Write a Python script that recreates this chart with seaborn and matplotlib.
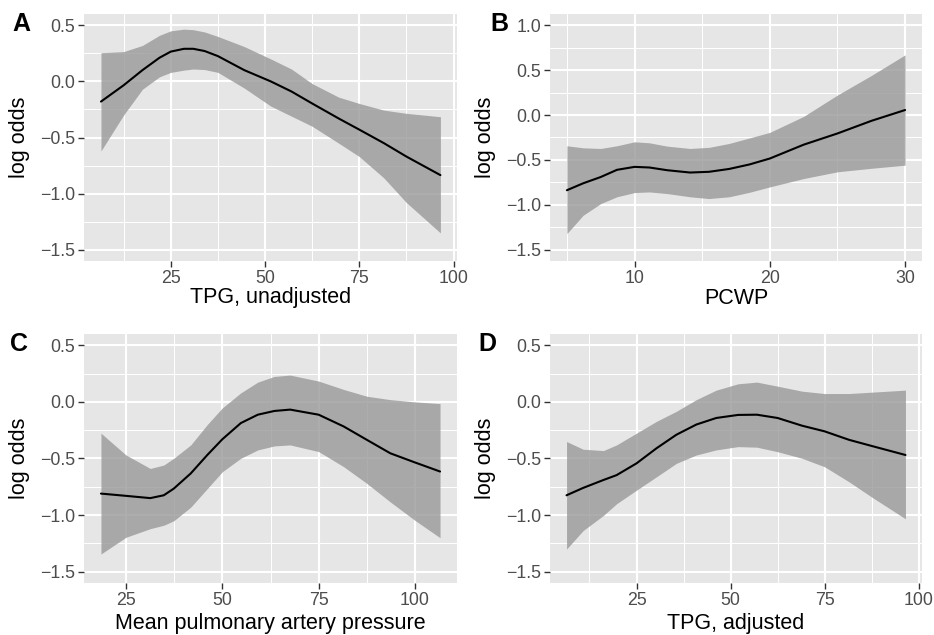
import matplotlib
matplotlib.use("Agg")
import matplotlib.pyplot as plt
import seaborn as sns
import pandas as pd

# ---------------- data ----------------
# Panel A: TPG, unadjusted
a_x = [6.5, 12.5, 17.5, 22, 25, 28.5, 31, 34, 37.5, 44.5, 51.5, 57, 62.5, 69.5, 75, 81.5, 87.5, 96.5]
a_fit = [-0.18, -0.035, 0.10, 0.21, 0.265, 0.29, 0.29, 0.27, 0.225, 0.10, 0.0, -0.09, -0.197, -0.33, -0.43, -0.55, -0.67, -0.835]
a_hi = [0.255, 0.265, 0.32, 0.41, 0.45, 0.465, 0.46, 0.44, 0.40, 0.31, 0.20, 0.11, -0.02, -0.14, -0.197, -0.256, -0.285, -0.315]
a_lo = [-0.62, -0.30, -0.07, 0.04, 0.08, 0.10, 0.11, 0.105, 0.08, -0.06, -0.22, -0.31, -0.40, -0.55, -0.67, -0.86, -1.08, -1.35]

# Panel B: PCWP
b_x = [5, 6.2, 7.5, 8.7, 10, 11.1, 12.4, 14.1, 15.5, 17, 18.5, 20, 22.5, 25, 27.5, 30]
b_fit = [-0.837, -0.76, -0.69, -0.61, -0.577, -0.584, -0.614, -0.64, -0.632, -0.60, -0.55, -0.484, -0.33, -0.205, -0.065, 0.056]
b_hi = [-0.342, -0.365, -0.372, -0.342, -0.298, -0.309, -0.346, -0.372, -0.36, -0.316, -0.255, -0.193, -0.015, 0.223, 0.44, 0.67]
b_lo = [-1.32, -1.116, -0.986, -0.91, -0.863, -0.856, -0.874, -0.91, -0.93, -0.91, -0.86, -0.80, -0.707, -0.632, -0.593, -0.558]

# Panel C: Mean pulmonary artery pressure
c_x = [18.5, 25, 31.3, 34.8, 37.4, 41.8, 46.1, 50, 54.8, 59.2, 63.5, 67.6, 75, 81.5, 87.5, 93.6, 100, 106.5]
c_fit = [-0.81, -0.83, -0.85, -0.825, -0.766, -0.632, -0.469, -0.33, -0.187, -0.113, -0.08, -0.068, -0.113, -0.217, -0.335, -0.454, -0.535, -0.615]
c_hi = [-0.276, -0.469, -0.588, -0.558, -0.498, -0.38, -0.20, -0.053, 0.08, 0.175, 0.225, 0.237, 0.184, 0.11, 0.05, 0.02, 0.0, -0.015]
c_lo = [-1.344, -1.196, -1.12, -1.09, -1.05, -0.93, -0.766, -0.617, -0.498, -0.424, -0.389, -0.38, -0.439, -0.573, -0.72, -0.884, -1.047, -1.20]

# Panel D: TPG, adjusted
d_x = [6.4, 10.8, 16.2, 19.7, 25, 30.3, 35.6, 40.9, 46.2, 52, 57, 62.5, 69, 75, 81.5, 87.5, 96.5]
d_fit = [-0.825, -0.76, -0.69, -0.647, -0.543, -0.41, -0.29, -0.20, -0.142, -0.115, -0.113, -0.142, -0.21, -0.26, -0.335, -0.389, -0.469]
d_hi = [-0.35, -0.418, -0.43, -0.38, -0.276, -0.172, -0.083, 0.02, 0.104, 0.16, 0.175, 0.139, 0.095, 0.074, 0.074, 0.086, 0.104]
d_lo = [-1.30, -1.137, -1.003, -0.90, -0.78, -0.662, -0.543, -0.469, -0.424, -0.395, -0.40, -0.44, -0.498, -0.573, -0.706, -0.84, -1.033]

panel_letters = ["A", "B", "C", "D"]
x_titles = ["TPG, unadjusted", "PCWP", "Mean pulmonary artery pressure", "TPG, adjusted"]
y_title = "log odds"

x_major = [[25, 50, 75, 100], [10, 20, 30], [25, 50, 75, 100], [25, 50, 75, 100]]
x_minor = [[12.5, 37.5, 62.5, 87.5], [5, 15, 25], [37.5, 62.5, 87.5], [12.5, 37.5, 62.5, 87.5]]
y_major_A = [-1.5, -1.0, -0.5, 0.0, 0.5]
y_major_B = [-1.5, -1.0, -0.5, 0.0, 0.5, 1.0]

# ---------------- style ----------------
sns.set_theme(style="darkgrid")
plt.rcParams["font.family"] = ["Liberation Sans", "DejaVu Sans"]
BG = "#E6E6E6"
RIBBON = "#999999"

fig = plt.figure(figsize=(9.34, 6.35), dpi=100)
W, H = 934, 635


def add_axes(left, top, right, bottom):
    return fig.add_axes([left / W, (H - bottom) / H, (right - left) / W, (bottom - top) / H])


axes = [
    add_axes(84, 14, 457, 261),
    add_axes(550, 14, 922, 261),
    add_axes(84, 334, 457, 583),
    add_axes(550, 334, 922, 583),
]

data = [
    (a_x, a_fit, a_hi, a_lo),
    (b_x, b_fit, b_hi, b_lo),
    (c_x, c_fit, c_hi, c_lo),
    (d_x, d_fit, d_hi, d_lo),
]

xlims = [(2.0, 100.9), (3.75, 31.25), (14.1, 110.9), (2.0, 100.9)]
ylims = [(-1.6, 0.6), (-1.625, 1.125), (-1.6, 0.6), (-1.6, 0.6)]


def fmt(v):
    return f"{v:.1f}".replace("-", "\u2212")


for i, ax in enumerate(axes):
    xs, fit, hi, lo = data[i]
    ax.set_facecolor(BG)
    for sp in ax.spines.values():
        sp.set_visible(False)

    ax.fill_between(xs, lo, hi, color=RIBBON, alpha=0.8, linewidth=0, zorder=2)
    df = pd.DataFrame({"x": xs, "y": fit})
    sns.lineplot(data=df, x="x", y="y", ax=ax, color="black", linewidth=1.5, zorder=3, sort=False)

    ax.set_xlim(*xlims[i])
    ax.set_ylim(*ylims[i])

    ax.set_xticks(x_major[i])
    ax.set_xticklabels([str(v) for v in x_major[i]])
    ax.set_xticks(x_minor[i], minor=True)
    yt = y_major_B if i == 1 else y_major_A
    ax.set_yticks(yt)
    ax.set_yticklabels([fmt(v) for v in yt])
    ym = [v + 0.25 for v in yt]
    ax.set_yticks([v for v in ym if ylims[i][0] < v < ylims[i][1]], minor=True)

    ax.grid(which="major", color="white", linewidth=1.5)
    ax.grid(which="minor", color="white", linewidth=0.75)
    ax.set_axisbelow(True)

    ax.tick_params(which="major", axis="both", length=4.5, width=1.0, color="#333333",
                   labelsize=12.8, labelcolor="#4D4D4D", pad=2, left=True, bottom=True)
    ax.tick_params(which="minor", length=0)

    ax.set_xlabel(x_titles[i], fontsize=15.5, color="black")
    ax.set_ylabel(y_title, fontsize=15.5, color="black")
    ax_h = 247 if i < 2 else 249
    xl_y = (-(298 - 261) / ax_h) if i < 2 else (-(623 - 583) / ax_h)
    ax.xaxis.set_label_coords(0.5, xl_y)
    ax.xaxis.label.set_va("center")
    yl_x = (19 - 84) / 373 if i in (0, 2) else (485 - 550) / 372
    ax.yaxis.set_label_coords(yl_x, 0.5)
    ax.yaxis.label.set_va("center")

# panel letters
letter_pos = [(12, 24), (490, 24), (10, 344), (478, 344)]
for letter, (px, py) in zip(panel_letters, letter_pos):
    fig.text(px / W, 1 - py / H, letter, fontsize=18, fontweight="bold",
             ha="left", va="center", color="black")

fig.savefig("out.png", dpi=100, facecolor="white")
